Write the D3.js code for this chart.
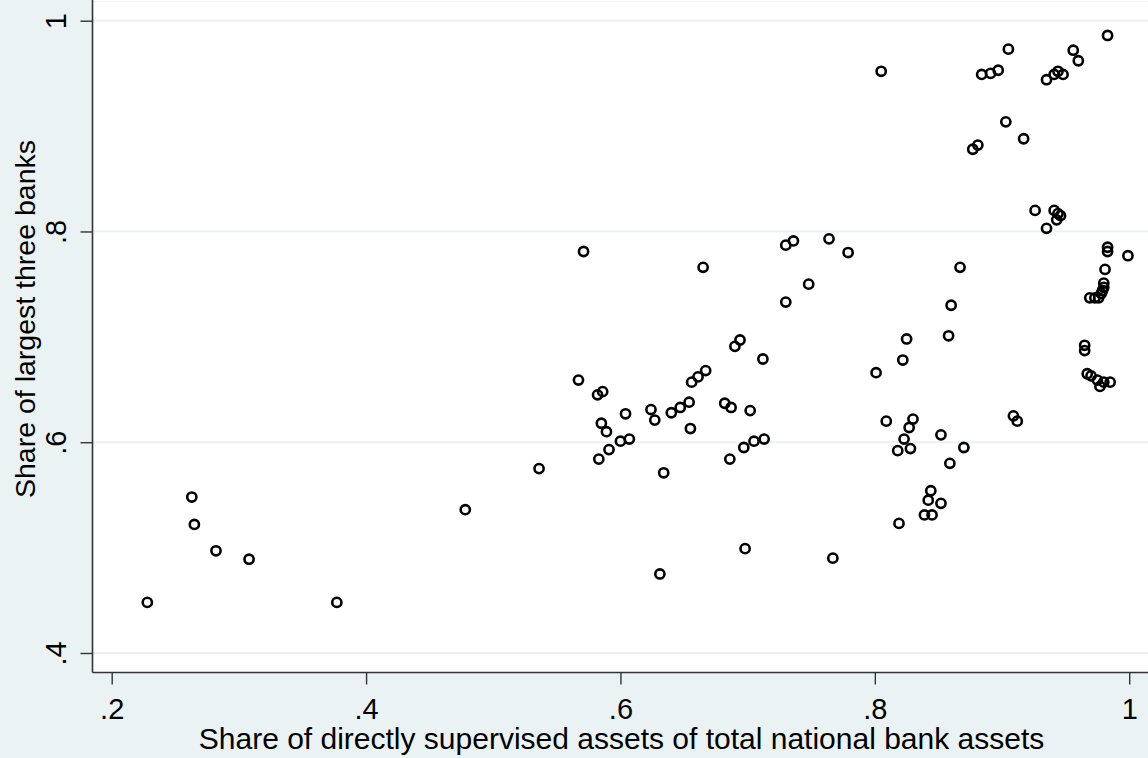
<!DOCTYPE html>
<html>
<head>
<meta charset="utf-8">
<script src="https://cdn.jsdelivr.net/npm/d3@7"></script>
<style>
  html, body { margin: 0; padding: 0; background: #eaf2f3; }
  svg { display: block; }
  text { font-family: "Liberation Sans", Arial, sans-serif; fill: #000; }
</style>
</head>
<body>
<svg id="chart" width="1148" height="758"></svg>
<script>
// Share of directly supervised assets (x) and share of the three largest banks (y)
const supervisedShare = [
  0.228, 0.263, 0.265, 0.282, 0.308, 0.377, 0.478, 0.536, 0.571, 0.665,
  0.730, 0.736, 0.764, 0.779, 0.748, 0.730, 0.690, 0.694, 0.712, 0.567,
  0.582, 0.586, 0.656, 0.661, 0.667, 0.604, 0.624, 0.627, 0.640, 0.647,
  0.654, 0.655, 0.682, 0.687, 0.702, 0.585, 0.589, 0.600, 0.607, 0.591,
  0.583, 0.697, 0.705, 0.713, 0.686, 0.634, 0.698, 0.631, 0.767, 0.809,
  0.830, 0.827, 0.823, 0.818, 0.828, 0.852, 0.870, 0.859, 0.844, 0.842,
  0.852, 0.839, 0.845, 0.819, 0.909, 0.912, 0.801, 0.822, 0.825, 0.858,
  0.860, 0.867, 0.805, 0.905, 0.884, 0.891, 0.897, 0.935, 0.941, 0.944,
  0.948, 0.956, 0.960, 0.983, 0.903, 0.917, 0.877, 0.881, 0.926, 0.941,
  0.944, 0.946, 0.943, 0.935, 0.983, 0.983, 0.999, 0.981, 0.980, 0.980,
  0.979, 0.978, 0.969, 0.973, 0.976, 0.965, 0.965, 0.967, 0.970, 0.975,
  0.977, 0.980, 0.985
];
const top3Share = [
  0.448, 0.548, 0.522, 0.497, 0.489, 0.448, 0.536, 0.575, 0.781, 0.766,
  0.787, 0.791, 0.793, 0.780, 0.750, 0.733, 0.691, 0.697, 0.679, 0.659,
  0.645, 0.648, 0.657, 0.662, 0.668, 0.627, 0.631, 0.621, 0.628, 0.633,
  0.638, 0.613, 0.637, 0.633, 0.630, 0.618, 0.610, 0.601, 0.603, 0.593,
  0.584, 0.595, 0.601, 0.603, 0.584, 0.571, 0.499, 0.475, 0.490, 0.620,
  0.622, 0.614, 0.603, 0.592, 0.594, 0.607, 0.595, 0.580, 0.554, 0.545,
  0.542, 0.531, 0.531, 0.523, 0.625, 0.620, 0.666, 0.678, 0.698, 0.701,
  0.730, 0.766, 0.952, 0.973, 0.949, 0.950, 0.953, 0.944, 0.949, 0.952,
  0.949, 0.972, 0.962, 0.986, 0.904, 0.888, 0.878, 0.882, 0.820, 0.820,
  0.817, 0.815, 0.811, 0.803, 0.785, 0.781, 0.777, 0.764, 0.751, 0.747,
  0.744, 0.741, 0.737, 0.737, 0.737, 0.692, 0.687, 0.665, 0.663, 0.659,
  0.653, 0.657, 0.657
];

const xTicks = [0.2, 0.4, 0.6, 0.8, 1];
const yTicks = [0.4, 0.6, 0.8, 1];
const xTitle = "Share of directly supervised assets of total national bank assets";
const yTitle = "Share of largest three banks";

const W = 1148, H = 758;
const axisX = 92.5, axisY = 672.5;

const svg = d3.select("#chart");

const x = d3.scaleLinear().domain([0.2, 1]).range([111.7, 1129.2]);
const y = d3.scaleLinear().domain([0.4, 1]).range([653, 20.7]);

const fmt = d => d === 1 ? "1" : d3.format(".1f")(d).replace(/^0/, "");

// plot region
svg.append("rect")
  .attr("x", axisX).attr("y", 0)
  .attr("width", W - axisX).attr("height", axisY)
  .attr("fill", "#ffffff");

svg.append("line")
  .attr("x1", axisX).attr("x2", W)
  .attr("y1", 1.5).attr("y2", 1.5)
  .attr("stroke", "#eef3f4").attr("stroke-width", 1);

// horizontal grid lines
svg.append("g")
  .selectAll("line")
  .data(yTicks)
  .join("line")
  .attr("x1", axisX).attr("x2", W)
  .attr("y1", d => y(d)).attr("y2", d => y(d))
  .attr("stroke", "#eaf2f3")
  .attr("stroke-width", 2.2);

// markers
svg.append("g")
  .selectAll("circle")
  .data(supervisedShare.map((v, i) => [v, top3Share[i]]))
  .join("circle")
  .attr("cx", d => x(d[0]))
  .attr("cy", d => y(d[1]))
  .attr("r", 4.6)
  .attr("fill", "none")
  .attr("stroke", "#000")
  .attr("stroke-width", 2.6);

// y axis
const gy = svg.append("g")
  .attr("transform", `translate(${axisX},0)`)
  .call(d3.axisLeft(y).tickValues(yTicks).tickFormat(fmt).tickSize(12).tickSizeOuter(0));
gy.select(".domain").remove();
gy.selectAll(".tick line").attr("stroke", "#333").attr("stroke-width", 1.4);
gy.selectAll(".tick text")
  .attr("transform", "rotate(-90)")
  .attr("x", 0).attr("y", -27).attr("dy", 0)
  .attr("text-anchor", "middle")
  .style("font-size", "29px")
  .attr("fill", "#000");

// x axis
const gx = svg.append("g")
  .attr("transform", `translate(0,${axisY})`)
  .call(d3.axisBottom(x).tickValues(xTicks).tickFormat(fmt).tickSize(12).tickSizeOuter(0));
gx.select(".domain").remove();
gx.selectAll(".tick line").attr("stroke", "#333").attr("stroke-width", 1.4);
gx.selectAll(".tick text")
  .attr("y", 46.5).attr("dy", 0)
  .style("font-size", "29px")
  .attr("fill", "#000");

// axis lines
svg.append("line")
  .attr("x1", axisX).attr("x2", axisX)
  .attr("y1", 0).attr("y2", axisY)
  .attr("stroke", "#333").attr("stroke-width", 1.6);
svg.append("line")
  .attr("x1", axisX).attr("x2", W)
  .attr("y1", axisY).attr("y2", axisY)
  .attr("stroke", "#333").attr("stroke-width", 1.6);

// axis titles
svg.append("text")
  .attr("x", 621.5).attr("y", 749)
  .attr("text-anchor", "middle")
  .style("font-size", "30px")
  .text(xTitle);

svg.append("text")
  .attr("transform", "translate(35,319) rotate(-90)")
  .attr("text-anchor", "middle")
  .style("font-size", "28.5px")
  .text(yTitle);
</script>
</body>
</html>
